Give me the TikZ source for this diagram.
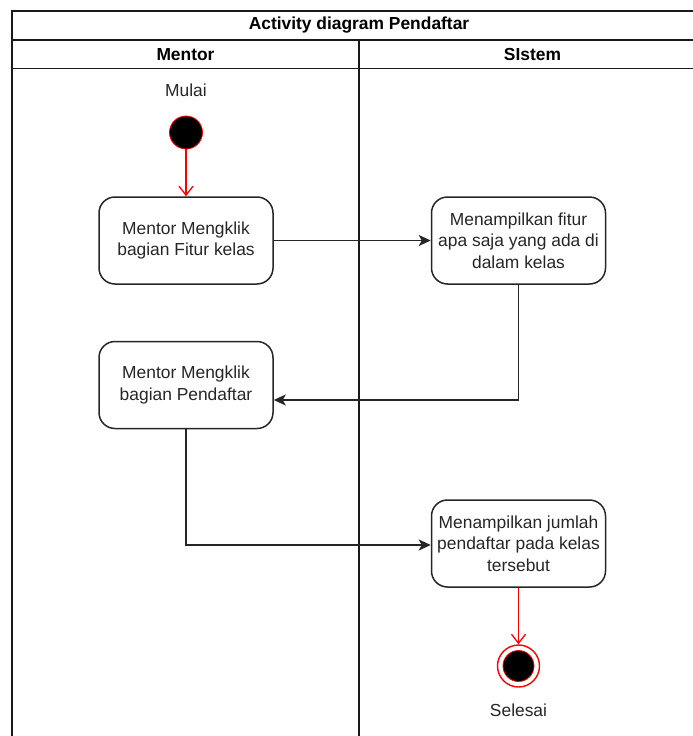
\documentclass[tikz,border=0pt]{standalone}
\usepackage{fontspec}
\setmainfont{Liberation Sans}
\usetikzlibrary{arrows.meta}
\begin{document}
\begin{tikzpicture}[x=1pt,y=-1pt,
  txt/.style={font=\fontsize{17.4}{21.5}\selectfont, text=black!85},
  head/.style={font=\fontsize{17.4}{21.5}\selectfont\bfseries, text=black},
  act/.style={txt, draw=black!85, line width=1.5pt, rounded corners=16pt,
    minimum width=174pt, minimum height=87pt, align=center, inner sep=2pt},
  poolline/.style={draw=black!90, line width=1.5pt},
  flow/.style={draw=black!85, line width=1.6pt,
    -{Stealth[length=12pt,width=11pt,inset=3pt]}},
  redflow/.style={draw=red, line width=1.3pt,
    -{Straight Barb[length=9pt,width=14pt]}}]
\useasboundingbox (0,0) rectangle (693,736);

% swimlane pool with title row and two lanes
\begin{scope}
  \clip (0,0) rectangle (693,736);
  \draw[poolline] (12,11) rectangle (706,760);
  \draw[poolline] (12,40) -- (706,40);
  \draw[poolline] (12,68.5) -- (706,68.5);
  \draw[poolline] (359,40) -- (359,760);
\end{scope}
\node[head] (title) at (359,25) {Activity diagram Pendaftar};
\node[head] (lane1) at (185.5,54.5) {Mentor};
\node[head] (lane2) at (532.5,54.5) {SIstem};

% start
\node[txt] (mulai) at (186,90) {Mulai};
\node[circle, fill=black, draw=red, line width=0.8pt, minimum size=33pt, inner sep=0pt] (start) at (186,132.5) {};

% activities
\node[act] (fitur) at (186,240.5) {Mentor Mengklik\\bagian Fitur kelas};
\node[act] (tampil) at (518.5,240.5) {Menampilkan fitur\\apa saja yang ada di\\dalam kelas};
\node[act] (daftar) at (186,385) {Mentor Mengklik\\bagian Pendaftar};
\node[act] (jumlah) at (518.5,543.5) {Menampilkan jumlah\\pendaftar pada kelas\\tersebut};

% end
\node[circle, draw=red, line width=1.4pt, minimum size=42pt, inner sep=0pt] (end) at (518.5,666) {};
\node[circle, fill=black, draw=red, line width=0.8pt, minimum size=31pt, inner sep=0pt] (endin) at (end) {};
\node[txt] (selesai) at (518.5,710) {Selesai};

% flows
\draw[redflow] (start) -- (fitur);
\draw[flow] (fitur) -- (tampil);
\draw[flow] (tampil.south) |- ([yshift=-15pt]daftar.east);
\draw[flow] (daftar.south) |- ([yshift=-1.5pt]jumlah.west);
\draw[redflow] (jumlah) -- (end);
\end{tikzpicture}
\end{document}
